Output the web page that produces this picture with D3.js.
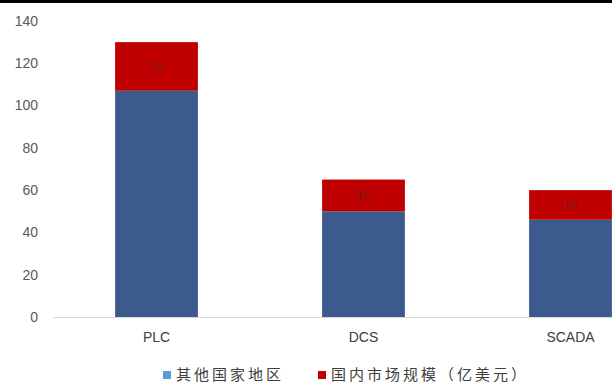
<!DOCTYPE html>
<html><head><meta charset="utf-8">
<script src="https://cdn.jsdelivr.net/npm/d3@7"></script>
<style>body{margin:0;background:#fff}svg{display:block}</style>
</head><body>
<svg id="c" width="612" height="383"></svg>
<script>
const categories = ["PLC", "DCS", "SCADA"];
const otherRegions = [107, 50, 46];
const domestic = [23, 15, 14];
const yTicks = [0, 20, 40, 60, 80, 100, 120, 140];
const seriesNames = ["其他国家地区", "国内市场规模（亿美元）"];

const svg = d3.select("#c");
svg.append("rect").attr("x",0).attr("y",0).attr("width",612).attr("height",3).attr("fill","#000");

const x = d3.scaleBand().domain(categories).range([53, 674]).paddingInner(0.6).paddingOuter(0.3);
const y = d3.scaleLinear().domain([0, 140]).range([317, 21]);

svg.append("line").attr("x1",53).attr("x2",612).attr("y1",y(0)+0.5).attr("y2",y(0)+0.5)
  .attr("stroke","#d9d9d9").attr("stroke-width",1);

svg.append("g").selectAll("text").data(yTicks).join("text")
  .attr("x", 38).attr("y", d => y(d)).attr("dy","0.35em").attr("text-anchor","end")
  .attr("font-family","Liberation Sans, Arial").attr("font-size",14).attr("fill","#595959")
  .text(d => d);

const band = x.bandwidth();
const stacked = d3.stack().keys([0,1]).value((d,k)=>d[k])(categories.map((c,i)=>[otherRegions[i], domestic[i]]));
const colors = ["#3d5a8e", "#c00000"];
stacked.forEach((s, k) => {
  svg.append("g").selectAll("rect").data(s).join("rect")
    .attr("x", (d,i) => x(categories[i]))
    .attr("width", band)
    .attr("y", d => y(d[1]))
    .attr("height", d => y(d[0]) - y(d[1]))
    .attr("fill", colors[k]);
});

svg.append("g").selectAll("text").data(stacked[1]).join("text")
  .attr("x", (d,i) => x(categories[i]) + band/2)
  .attr("y", d => y((d[0]+d[1])/2))
  .attr("dy","0.35em").attr("text-anchor","middle")
  .attr("font-family","Liberation Sans, Arial").attr("font-size",13).attr("fill","#7a1a1a")
  .text((d,i) => domestic[i]);

svg.append("g").selectAll("text").data(categories).join("text")
  .attr("transform", d => `translate(${x(d)+band/2},342) scale(0.93,1)`)
  .attr("text-anchor","middle")
  .attr("font-family","Liberation Sans, Arial")
  .attr("font-size",15).attr("fill","#404040")
  .text(d => d);

const leg = [{x:163, c:"#5b9bd5", t:seriesNames[0]}, {x:318, c:"#c00000", t:seriesNames[1]}];
leg.forEach(l => {
  svg.append("rect").attr("x", l.x).attr("y", 371).attr("width", 8).attr("height", 8).attr("fill", l.c);
  svg.append("text").attr("x", l.x + 13).attr("y", 375).attr("dy","0.35em")
    .attr("font-family","Noto Sans CJK SC").attr("font-size",15).attr("fill","#404040")
    .attr("letter-spacing", 3)
    .text(l.t);
});
</script>
</body></html>
